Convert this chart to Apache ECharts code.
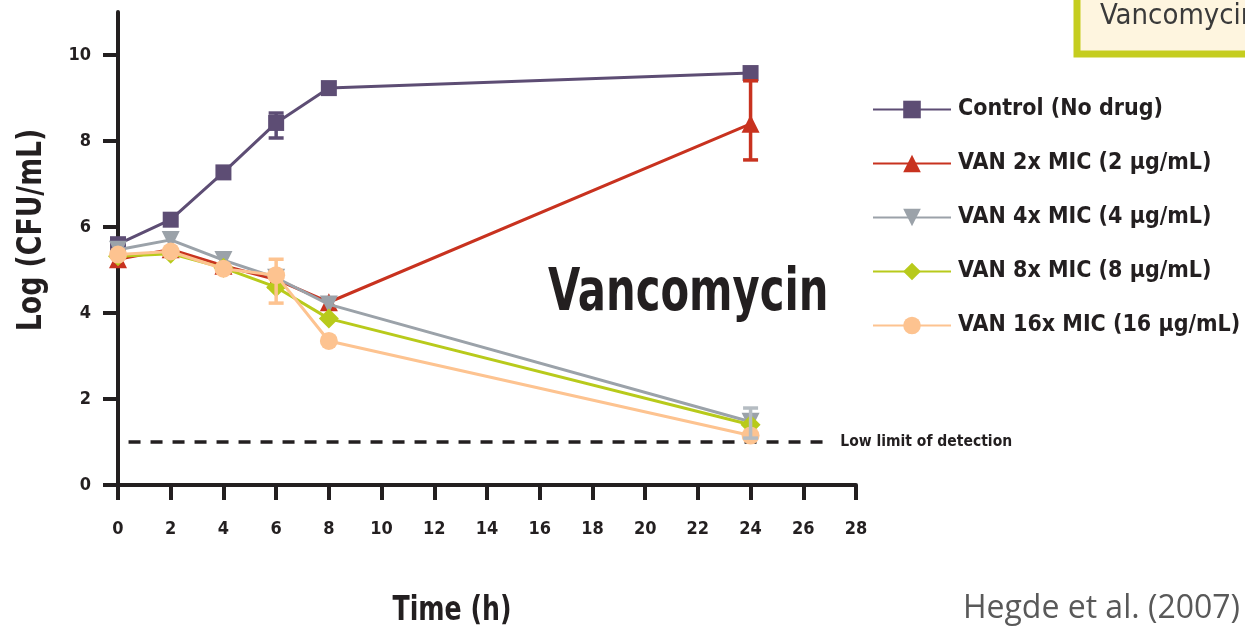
<!DOCTYPE html>
<html>
<head>
<meta charset="utf-8">
<script src="https://cdn.jsdelivr.net/npm/echarts@6/dist/echarts.min.js"></script>
<style>html,body{margin:0;padding:0;background:#fff}#c{width:1245px;height:630px}</style>
</head>
<body>
<div id="c"></div>
<script>
// ---- data ----
var hours = [0, 2, 4, 6, 8, 24];
var seriesNames = ['Control (No drug)', 'VAN 2x MIC (2 μg/mL)', 'VAN 4x MIC (4 μg/mL)', 'VAN 8x MIC (8 μg/mL)', 'VAN 16x MIC (16 μg/mL)'];
var control = [5.6, 6.17, 7.27, 8.42, 9.23, 9.58];
var van2 = [5.25, 5.48, 5.1, 4.78, 4.25, 8.4];
var van4 = [5.47, 5.7, 5.23, 4.82, 4.2, 1.47];
var van8 = [5.32, 5.38, 5.05, 4.6, 3.87, 1.4];
var van16 = [5.36, 5.43, 5.03, 4.88, 3.35, 1.15];
// error bars: [hour, low, high]
var errControl = [[6, 8.07, 8.65]];
var errVan2 = [[24, 7.56, 9.4]];
var errVan4 = [[24, 1.09, 1.79]];
var errVan16 = [[6, 4.23, 5.25]];
var detectionLimit = 1;
var detectionRange = [0.4, 27.1];
var yTicks = [0, 2, 4, 6, 8, 10];
var xTicks = [0, 2, 4, 6, 8, 10, 12, 14, 16, 18, 20, 22, 24, 26, 28];

var COLORS = ['#5d4d74', '#c8321f', '#9ba2a9', '#b8ca1b', '#fdc390'];
var FONT = '"Liberation Sans Narrow", "DejaVu Sans Condensed", sans-serif';
var INK = '#231f20';

function pairs(arr) { return hours.map(function (h, i) { return [h, arr[i]]; }); }

function errSeries(data, color, z) {
  return {
    type: 'custom', data: data, z: z, silent: true,
    encode: { x: 0, y: [1, 2] },
    renderItem: function (params, api) {
      var x = api.value(0);
      var lo = api.coord([x, api.value(1)]);
      var hi = api.coord([x, api.value(2)]);
      var hw = 7.5;
      var st = { stroke: color, lineWidth: 3.5 };
      return { type: 'group', children: [
        { type: 'line', shape: { x1: lo[0], y1: lo[1], x2: hi[0], y2: hi[1] }, style: st },
        { type: 'line', shape: { x1: lo[0] - hw, y1: lo[1], x2: lo[0] + hw, y2: lo[1] }, style: st },
        { type: 'line', shape: { x1: hi[0] - hw, y1: hi[1], x2: hi[0] + hw, y2: hi[1] }, style: st }
      ]};
    }
  };
}

function lineSeries(name, arr, color, symbol, size, rotate, z) {
  return {
    name: name, type: 'line', data: pairs(arr), z: z,
    symbol: symbol, symbolSize: size, symbolRotate: rotate || 0, showAllSymbol: true,
    lineStyle: { color: color, width: 3 },
    itemStyle: { color: color, borderWidth: 0 },
    emphasis: { disabled: true }, animation: false
  };
}

var chart = echarts.init(document.getElementById('c'), null, { renderer: 'canvas' });
chart.setOption({
  animation: false,
  backgroundColor: '#ffffff',
  grid: { left: 118, right: 389, top: 12, bottom: 145 },
  xAxis: {
    type: 'value', min: 0, max: 28, interval: 2,
    axisLine: { show: true, onZero: false, lineStyle: { color: INK, width: 4 } },
    axisTick: { show: true, length: 15, inside: false, lineStyle: { color: INK, width: 4 }, customValues: xTicks },
    axisLabel: { margin: 35, color: INK, fontFamily: FONT, fontSize: 18, fontWeight: 'bold', customValues: xTicks },
    splitLine: { show: false }
  },
  yAxis: {
    type: 'value', min: 0, max: 11,
    axisLine: { show: true, lineStyle: { color: INK, width: 4 } },
    axisTick: { show: true, length: 15, lineStyle: { color: INK, width: 4 }, customValues: yTicks },
    axisLabel: { margin: 27, color: INK, fontFamily: FONT, fontSize: 18, fontWeight: 'bold', customValues: yTicks },
    splitLine: { show: false }
  },
  legend: {
    data: seriesNames,
    orient: 'vertical', left: 867, top: 93,
    itemWidth: 78, itemHeight: 22, itemGap: 31,
    textStyle: { color: INK, fontFamily: FONT, fontSize: 23, fontWeight: 'bold', padding: [0, 0, 0, 2] },
    selectedMode: false
  },
  graphic: [
    { type: 'text', x: 548, y: 295, scaleX: 0.8, style: { text: 'Vancomycin', font: 'bold 58px ' + FONT, fill: INK, verticalAlign: 'middle' } },
    { type: 'text', x: 32, y: 230, rotation: Math.PI / 2, scaleX: 0.9, style: { text: 'Log (CFU/mL)', font: 'bold 33px ' + FONT, fill: INK, align: 'center', verticalAlign: 'middle' } },
    { type: 'text', x: 452, y: 611, scaleX: 0.85, style: { text: 'Time (h)', font: 'bold 33px ' + FONT, fill: INK, align: 'center', verticalAlign: 'middle' } },
    { type: 'text', x: 1240, y: 609, style: { text: 'Hegde et al. (2007)', font: '32px "Open Sans", "Noto Sans", sans-serif', fill: '#595959', align: 'right', verticalAlign: 'middle' } },
    { type: 'rect', shape: { x: 1077, y: -20, width: 200, height: 74 }, style: { fill: '#fef5df', stroke: '#c5cd1f', lineWidth: 7 } },
    { type: 'text', x: 1100, y: 16, style: { text: 'Vancomycin', font: '29px ' + FONT, fill: '#3a3a3a', verticalAlign: 'middle' } }
  ],
  series: [
    {
      name: 'Low limit of detection', type: 'line', data: detectionRange.map(function (x) { return [x, detectionLimit]; }),
      symbol: 'none', z: 1,
      lineStyle: { color: INK, width: 3.5, type: [12, 10] },
      endLabel: { show: true, formatter: 'Low limit of detection', color: INK, fontFamily: FONT, fontWeight: 'bold', fontSize: 15.5, distance: 8 },
      emphasis: { disabled: true }
    },
    lineSeries(seriesNames[0], control, COLORS[0], 'rect', 16, 0, 3),
    errSeries(errControl, COLORS[0], 3),
    lineSeries(seriesNames[1], van2, COLORS[1], 'triangle', 18, 0, 4),
    errSeries(errVan2, COLORS[1], 4),
    lineSeries(seriesNames[2], van4, COLORS[2], 'triangle', 18, 180, 5),
    errSeries(errVan4, '#b5bcc2', 8),
    lineSeries(seriesNames[3], van8, COLORS[3], 'diamond', 20, 0, 6),
    lineSeries(seriesNames[4], van16, COLORS[4], 'circle', 18, 0, 7),
    errSeries(errVan16, COLORS[4], 7)
  ]
});
</script>
</body>
</html>
